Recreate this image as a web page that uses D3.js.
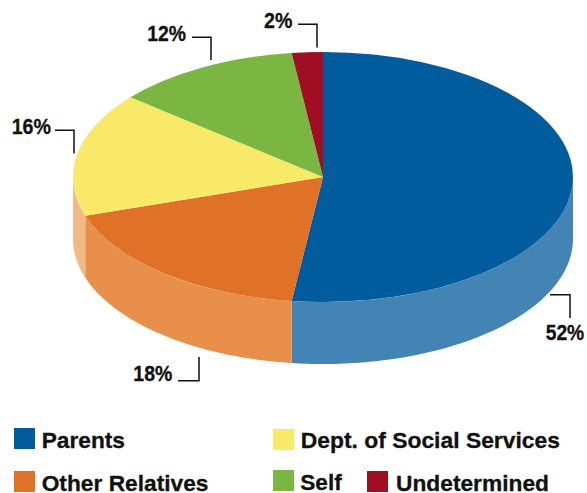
<!DOCTYPE html>
<html>
<head>
  <script src="https://d3js.org/d3.v7.min.js"></script>
  <style>
    html, body { margin: 0; padding: 0; background: #fff; }
    svg { display: block; }
    text { font-family: "Liberation Sans", Arial, sans-serif; font-weight: bold; fill: #111; stroke: #111; stroke-width: 0.3; }
  </style>
</head>
<body>
<script>
var categories = ["Parents", "Other Relatives", "Dept. of Social Services", "Self", "Undetermined"];
var shares = [52, 18, 16, 12, 2];
var shareLabels = ["52%", "18%", "16%", "12%", "2%"];
var topColors = ["#005c9c", "#e07228", "#f9e968", "#7ab641", "#a00e23"];
var sideColors = ["#4384b5", "#e8904b", "#f2b987", null, null];

var width = 587, height = 493;
var cx = 323, cy = 177, rx = 250, ry = 125, depth = 62;

// leader lines, [x1,y1, x2,y2, x3,y3], and where each label sits
var leaders = [
  [550, 294.7, 570, 294.7, 570, 318],
  [178, 380.7, 199, 380.7, 199, 357],
  [55, 130.3, 74, 130.3, 74, 153.5],
  [192, 37.3, 211, 37.3, 211, 60],
  [298, 24.3, 317, 24.3, 317, 47.5]
];
// x, baseline, text width
var labelPos = [[545.7, 339.5, 38.5], [133.3, 381, 39], [11.7, 134, 39.3], [147.3, 41, 38.7], [264, 28.3, 28.3]];
// swatch x, swatch y, text x, baseline, text width
var legendPos = [
  [14, 428, 41.7, 448.3, 83.3],
  [14, 471, 41.7, 491, 166.8],
  [273, 429, 300.7, 448, 259.3],
  [273, 470, 300.3, 489.5, 41.4],
  [367, 471, 396, 491, 153]
];

var svg = d3.select("body").append("svg")
  .attr("width", width)
  .attr("height", height);

var slices = d3.pie().sort(null).value(function(d) { return d; })(shares);

// side wall, only the front half of the ellipse is visible
var wall = d3.area()
  .x(function(a) { return cx + rx * Math.sin(a); })
  .y0(function(a) { return cy - ry * Math.cos(a); })
  .y1(function(a) { return cy - ry * Math.cos(a) + depth; });

svg.append("g").selectAll("path")
  .data(slices)
  .enter()
  .filter(function(d) { return d.startAngle < 1.5 * Math.PI && d.endAngle > 0.5 * Math.PI; })
  .append("path")
  .attr("fill", function(d) { return sideColors[d.index]; })
  .attr("d", function(d) {
    var a0 = Math.max(d.startAngle, 0.5 * Math.PI),
        a1 = Math.min(d.endAngle, 1.5 * Math.PI);
    return wall(d3.range(0, 61).map(function(i) { return a0 + (a1 - a0) * i / 60; }));
  });

var arc = d3.arc().innerRadius(0).outerRadius(rx);

svg.append("g")
  .attr("transform", "translate(" + cx + "," + cy + ") scale(1," + ry / rx + ")")
  .selectAll("path")
  .data(slices)
  .enter()
  .append("path")
  .attr("fill", function(d) { return topColors[d.index]; })
  .attr("d", arc);

svg.append("g").selectAll("polyline")
  .data(leaders)
  .enter()
  .append("polyline")
  .attr("points", function(d) { return d.join(" "); })
  .attr("fill", "none")
  .attr("stroke", "#111")
  .attr("stroke-width", 1.5);

// labels are condensed in the original, squeeze them sideways to the measured width
svg.append("g").selectAll("text")
  .data(shareLabels)
  .enter()
  .append("text")
  .attr("font-size", 21.5)
  .text(function(d) { return d; })
  .attr("transform", function(d, i) {
    var sx = labelPos[i][2] / this.getComputedTextLength();
    return "translate(" + labelPos[i][0] + "," + labelPos[i][1] + ") scale(" + sx + ",1)";
  });

var legend = svg.append("g");

legend.selectAll("rect")
  .data(categories)
  .enter()
  .append("rect")
  .attr("x", function(d, i) { return legendPos[i][0]; })
  .attr("y", function(d, i) { return legendPos[i][1]; })
  .attr("width", 21)
  .attr("height", 21)
  .attr("fill", function(d, i) { return topColors[i]; });

legend.selectAll("text")
  .data(categories)
  .enter()
  .append("text")
  .attr("x", function(d, i) { return legendPos[i][2]; })
  .attr("y", function(d, i) { return legendPos[i][3]; })
  .attr("textLength", function(d, i) { return legendPos[i][4]; })
  .attr("lengthAdjust", "spacingAndGlyphs")
  .attr("font-size", 22)
  .text(function(d) { return d; });
</script>
</body>
</html>
